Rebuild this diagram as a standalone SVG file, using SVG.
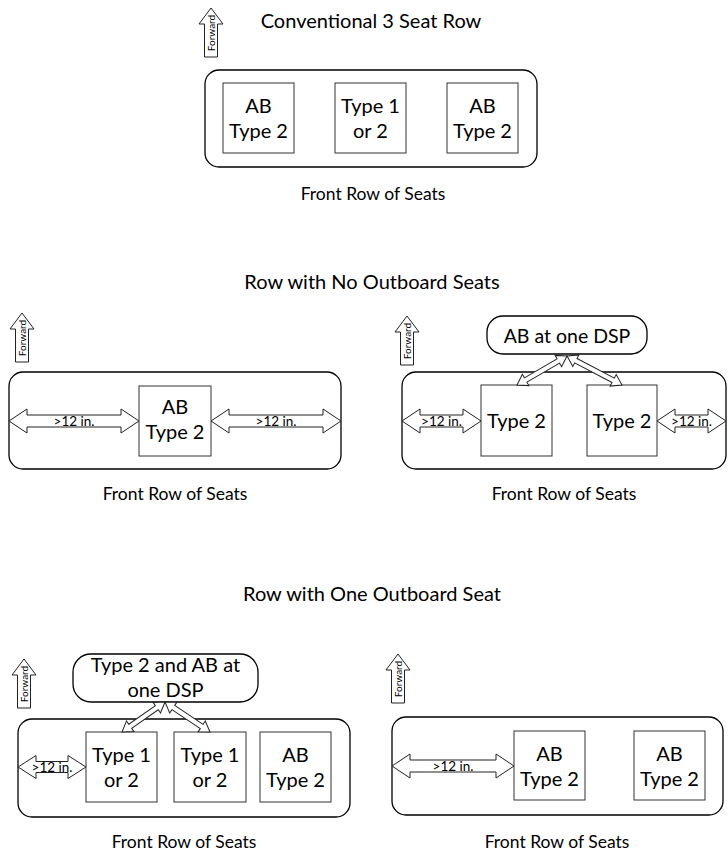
<svg xmlns="http://www.w3.org/2000/svg" width="728" height="852" viewBox="0 0 728 852">
<style>
.t{font-family:Lato,"Open Sans","Liberation Sans",sans-serif;fill:#000;text-anchor:middle}
.title{font-size:20px}
.front{font-size:17.5px}
.seat{font-size:20px}
.call{font-size:19.5px}
.lbl{font-size:13.5px}
.fwd{font-size:10px}
.row{fill:#fff;stroke:#000;stroke-width:1.3}
.box{fill:#fff;stroke:#333;stroke-width:1}
.arr{fill:#fff;stroke:#222;stroke-width:1}
</style>
<defs>
<g id="fwdArrow"><polygon class="arr" points="12,0 24,16 18.5,16 18.5,49 5.5,49 5.5,16 0,16"/><text class="t fwd" transform="translate(15.8,25) rotate(-90)">Forward</text></g>
</defs>
<rect width="728" height="852" fill="#fff"/>

<!-- Diagram 1 -->
<g id="d1-title"><text class="t title" x="371" y="28">Conventional 3 Seat Row</text></g>
<g id="d1-forward"><use href="#fwdArrow" x="199" y="8"/></g>
<g id="d1-row"><rect class="row" x="205" y="70" width="332" height="97" rx="14"/></g>
<g id="d1-seat1"><rect class="box" x="223" y="83" width="71" height="70"/><text class="t seat" x="258.5" y="113">AB</text><text class="t seat" x="258.5" y="138">Type 2</text></g>
<g id="d1-seat2"><rect class="box" x="335" y="83" width="71" height="70"/><text class="t seat" x="370.5" y="113">Type 1</text><text class="t seat" x="370.5" y="138">or 2</text></g>
<g id="d1-seat3"><rect class="box" x="447" y="83" width="71" height="70"/><text class="t seat" x="482.5" y="113">AB</text><text class="t seat" x="482.5" y="138">Type 2</text></g>
<g id="d1-front"><text class="t front" x="373" y="200">Front Row of Seats</text></g>

<!-- Diagram 2 -->
<g id="d2-title"><text class="t title" x="372" y="289">Row with No Outboard Seats</text></g>
<g id="d2l-forward"><use href="#fwdArrow" x="10" y="313"/></g>
<g id="d2l-row"><rect class="row" x="9" y="372" width="332" height="97" rx="14"/></g>
<g id="d2l-seat"><rect class="box" x="139" y="386" width="72" height="70"/><text class="t seat" x="175" y="414">AB</text><text class="t seat" x="175" y="439">Type 2</text></g>
<g id="d2l-front"><text class="t front" x="175" y="500">Front Row of Seats</text></g>

<g id="d2r-forward"><use href="#fwdArrow" x="395" y="316"/></g>
<g id="d2r-callout"><rect class="row" x="487" y="316" width="160" height="38" rx="16"/><text class="t call" x="567" y="343">AB at one DSP</text></g>
<g id="d2r-row"><rect class="row" x="402" y="372" width="324" height="97" rx="14"/></g>
<g id="d2r-seat1"><rect class="box" x="481" y="385" width="71" height="71"/><text class="t seat" x="516.5" y="428">Type 2</text></g>
<g id="d2r-seat2"><rect class="box" x="587" y="385" width="70" height="71"/><text class="t seat" x="622" y="428">Type 2</text></g>
<g id="d2r-front"><text class="t front" x="564" y="500">Front Row of Seats</text></g>

<!-- Diagram 3 -->
<g id="d3-title"><text class="t title" x="372" y="601">Row with One Outboard Seat</text></g>
<g id="d3l-forward"><use href="#fwdArrow" x="12" y="659"/></g>
<g id="d3l-callout"><rect class="row" x="73" y="654" width="185" height="48" rx="18"/><text class="t seat" x="165.5" y="672">Type 2 and AB at</text><text class="t seat" x="165.5" y="697">one DSP</text></g>
<g id="d3l-row"><rect class="row" x="18" y="719" width="332" height="98" rx="14"/></g>
<g id="d3l-seat1"><rect class="box" x="86" y="732" width="71" height="70"/><text class="t seat" x="121.5" y="762">Type 1</text><text class="t seat" x="121.5" y="787">or 2</text></g>
<g id="d3l-seat2"><rect class="box" x="174" y="732" width="72" height="70"/><text class="t seat" x="210" y="762">Type 1</text><text class="t seat" x="210" y="787">or 2</text></g>
<g id="d3l-seat3"><rect class="box" x="260" y="732" width="71" height="70"/><text class="t seat" x="295.5" y="762">AB</text><text class="t seat" x="295.5" y="787">Type 2</text></g>
<g id="d3l-front"><text class="t front" x="184" y="848">Front Row of Seats</text></g>

<g id="d3r-forward"><use href="#fwdArrow" x="386" y="654"/></g>
<g id="d3r-row"><rect class="row" x="392" y="717" width="331" height="98" rx="14"/></g>
<g id="d3r-seat1"><rect class="box" x="514" y="731" width="71" height="69"/><text class="t seat" x="549.5" y="761">AB</text><text class="t seat" x="549.5" y="786">Type 2</text></g>
<g id="d3r-seat2"><rect class="box" x="634" y="731" width="71" height="69"/><text class="t seat" x="669.5" y="761">AB</text><text class="t seat" x="669.5" y="786">Type 2</text></g>
<g id="d3r-front"><text class="t front" x="557" y="848">Front Row of Seats</text></g>

<!-- Connectors -->
<g id="connectors">
<g id="c-d2l-left"><polygon class="arr" points="9,421 27,409 27,415 121,415 121,409 139,421 121,433 121,427 27,427 27,433"/><text class="t lbl" x="74" y="425.5">&gt;12 in.</text></g>
<g id="c-d2l-right"><polygon class="arr" points="211,421 229,409 229,415 323,415 323,409 341,421 323,433 323,427 229,427 229,433"/><text class="t lbl" x="276" y="425.5">&gt;12 in.</text></g>
<g id="c-d2r-left"><polygon class="arr" points="402,421 420,409 420,415 463,415 463,409 481,421 463,433 463,427 420,427 420,433"/><text class="t lbl" x="441.5" y="425.5">&gt;12 in.</text></g>
<g id="c-d2r-right"><polygon class="arr" points="657,421 675,409 675,415 708,415 708,409 726,421 708,433 708,427 675,427 675,433"/><text class="t lbl" x="691.5" y="425.5">&gt;12 in.</text></g>
<g id="c-d2r-diag1"><polygon class="arr" transform="translate(567,356) rotate(149.9)" points="0,0 10,-6.5 10,-2.5 47.8,-2.5 47.8,-6.5 57.8,0 47.8,6.5 47.8,2.5 10,2.5 10,6.5"/></g>
<g id="c-d2r-diag2"><polygon class="arr" transform="translate(567,356) rotate(27.8)" points="0,0 10,-6.5 10,-2.5 52.2,-2.5 52.2,-6.5 62.2,0 52.2,6.5 52.2,2.5 10,2.5 10,6.5"/></g>
<g id="c-d3l-left"><polygon class="arr" points="18,767 36,755.5 36,761.5 68,761.5 68,755.5 86,767 68,778.5 68,772.5 36,772.5 36,778.5"/><text class="t lbl" x="52" y="771.5">&gt;12 in.</text></g>
<g id="c-d3l-diag1"><polygon class="arr" transform="translate(165,702) rotate(145.1)" points="0,0 10,-6.5 10,-2.5 42.4,-2.5 42.4,-6.5 52.4,0 42.4,6.5 42.4,2.5 10,2.5 10,6.5"/></g>
<g id="c-d3l-diag2"><polygon class="arr" transform="translate(165,702) rotate(33.7)" points="0,0 10,-6.5 10,-2.5 44.1,-2.5 44.1,-6.5 54.1,0 44.1,6.5 44.1,2.5 10,2.5 10,6.5"/></g>
<g id="c-d3r-left"><polygon class="arr" points="392,766 410,754 410,760 496,760 496,754 514,766 496,778 496,772 410,772 410,778"/><text class="t lbl" x="453" y="770.5">&gt;12 in.</text></g>
</g>
</svg>
